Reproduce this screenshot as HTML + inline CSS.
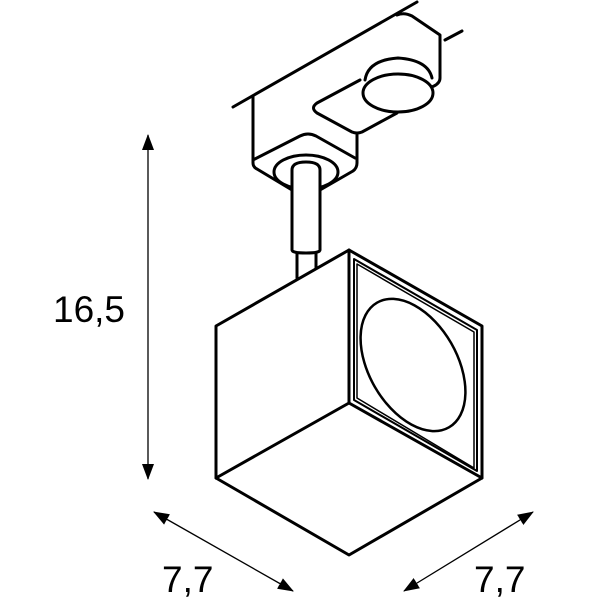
<!DOCTYPE html>
<html><head><style>
html,body{margin:0;padding:0;background:#fff;}
svg{display:block;}
text{font-family:"Liberation Sans",sans-serif;fill:#000;}
</style></head><body>
<svg width="600" height="600" viewBox="0 0 600 600" xmlns="http://www.w3.org/2000/svg">
<defs>
<marker id="ar" markerWidth="16" markerHeight="12" refX="15" refY="6" orient="auto-start-reverse" markerUnits="userSpaceOnUse" viewBox="0 0 16 12">
<path d="M0,0 L16,6 L0,12 z" fill="#000"/>
</marker>
</defs>
<g fill="none" stroke="#000" stroke-width="3" stroke-linejoin="round" stroke-linecap="round">
<line x1="233" y1="107" x2="417" y2="2"/>
<line x1="445" y1="40" x2="462" y2="31"/>
<path d="M253,96 V163 Q253,167 257,169 L292,190"/>
<path d="M320,190 L353,171 Q357,168 357,163 V133"/>
<path d="M253,160 L300,136 Q308,132 316,136 L355,158"/>
<ellipse cx="306" cy="172" rx="32" ry="17"/>
<path d="M397,113 L362,132 Q357,134 352,132 L317,113 Q310,108 317,103 L360,80"/>
<path d="M397,15 Q404,12 412,16 L440,35 V78 Q440,83 434,86 L425,90"/>
<path d="M365,80 Q368,60 398,58 Q428,60 432,78"/>
<ellipse cx="398" cy="93" rx="35" ry="19" fill="#fff"/>
<path d="M292,250 V170 Q292,162 306,162 Q320,162 320,170 V250 Q320,253 306,253 Q292,253 292,250 Z" fill="#fff"/>
<line x1="297" y1="253" x2="297" y2="278"/>
<line x1="316" y1="253" x2="316" y2="268"/>
<path d="M349,250 L216,326 V478 L349,555 L482,478 V326 Z" fill="#fff"/>
<path d="M349,250 V403 L216,478 M349,403 L482,478"/>
<path d="M354,259 L477,330 V471 L354,400 Z" stroke-width="2"/>
<path d="M357,264 L474,332 V468 L357,398 Z" stroke-width="1.5"/>
<ellipse cx="413" cy="365" rx="72" ry="44" transform="rotate(60 413 365)" stroke-width="2.5"/>
</g>
<g stroke="#000" stroke-width="1.3" fill="none">
<line x1="148" y1="135" x2="148" y2="479" marker-start="url(#ar)" marker-end="url(#ar)"/>
<line x1="154" y1="512" x2="293" y2="591" marker-start="url(#ar)" marker-end="url(#ar)"/>
<line x1="533" y1="512" x2="404" y2="591" marker-start="url(#ar)" marker-end="url(#ar)"/>
</g>
<text x="53" y="322" font-size="37">16,5</text>
<text x="162" y="592" font-size="37">7,7</text>
<text x="474" y="592" font-size="37">7,7</text>
</svg>
</body></html>
